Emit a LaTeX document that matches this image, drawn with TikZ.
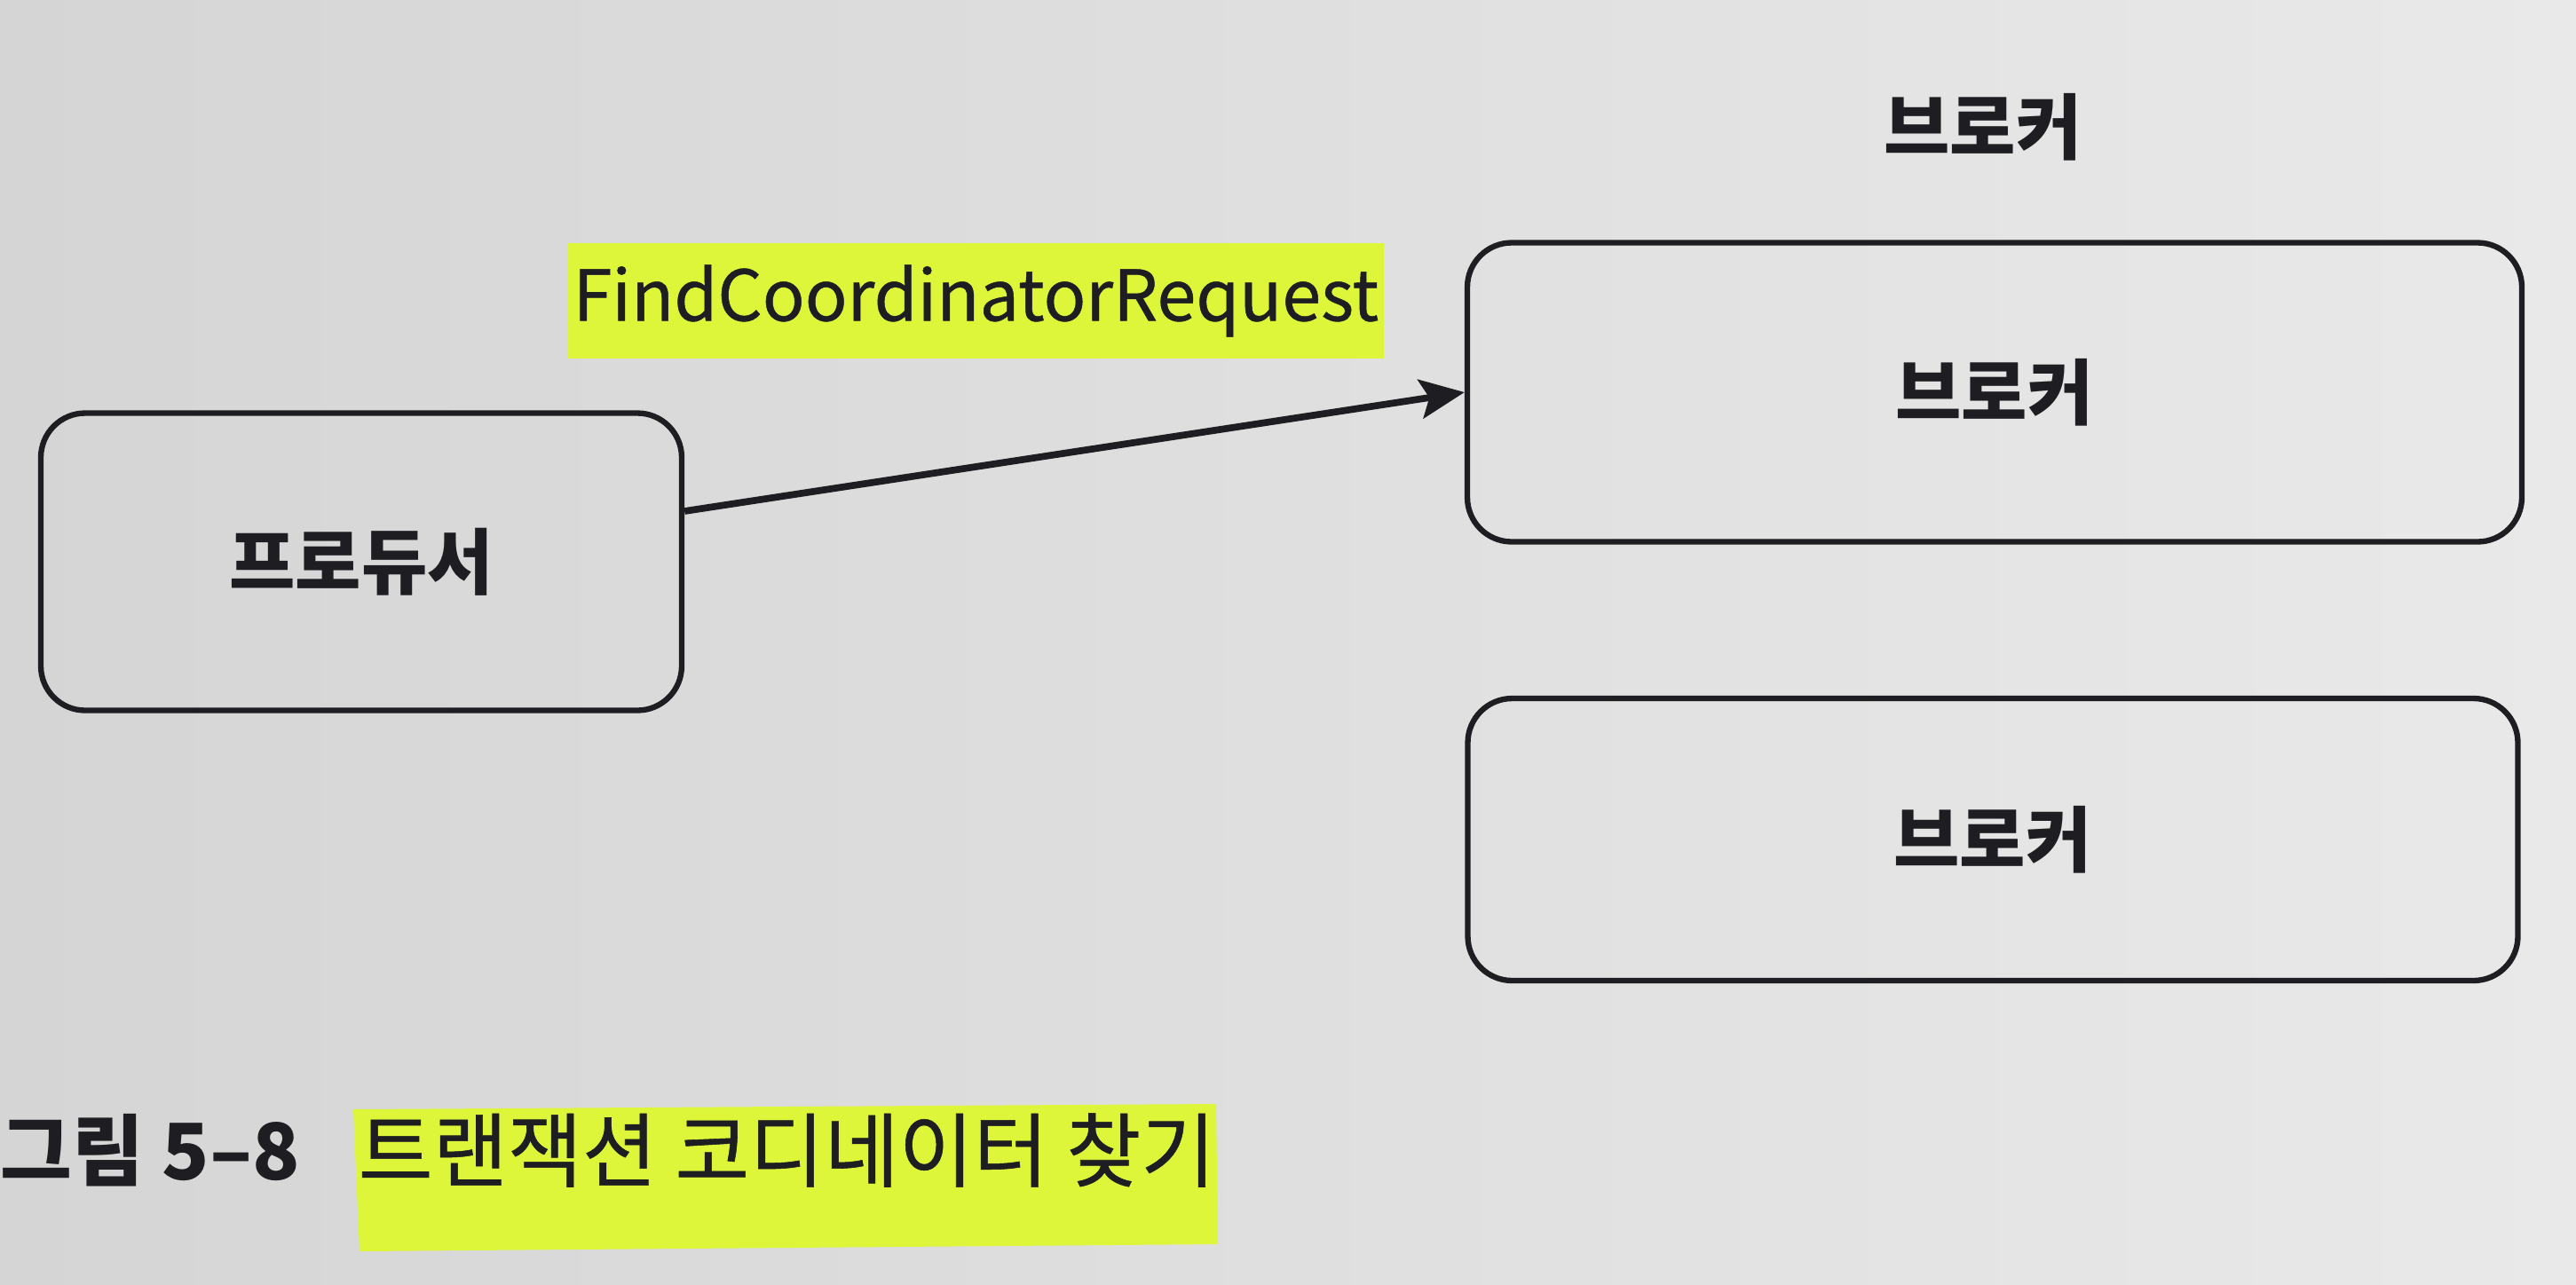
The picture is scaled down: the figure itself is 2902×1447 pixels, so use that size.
\documentclass[tikz,border=0pt]{standalone}
\usepackage{fontspec}
\setmainfont{Noto Sans CJK KR}
\usetikzlibrary{arrows.meta,calc}
\definecolor{paperL}{RGB}{212,213,212}
\definecolor{paperR}{RGB}{232,233,232}
\definecolor{hl}{RGB}{222,246,58}
\definecolor{ink}{RGB}{30,30,34}
\tikzset{
  box/.style={draw=ink, line width=1.8pt, rounded corners=5mm, font=\fontsize{23}{27}\selectfont\bfseries, text=ink},
  lbl/.style={font=\fontsize{23}{27}\selectfont\bfseries, text=ink},
  conn/.style={draw=ink, line width=2.2pt, -{Stealth[length=5mm,width=4.4mm,inset=1mm]}},
}
\begin{document}
\begin{tikzpicture}[x=0.1mm,y=-0.1mm]
\useasboundingbox (0,0) rectangle (2902,1447);
\shade[left color=paperL, right color=paperR] (0,0) rectangle (2902,1447);
% boxes
\node[box, minimum width=72.2mm, minimum height=33.5mm] (prod) at (407,633) {프로듀서};
\node[box, minimum width=118.8mm, minimum height=33.7mm] (b1) at (2247,442) {브로커};
\node[box, minimum width=118.3mm, minimum height=31.8mm] (b2) at (2245,946) {브로커};
\node[lbl] (top) at (2234,143) {브로커};
% arrow label
\node[fill=hl, inner xsep=0.6mm, inner ysep=0pt, minimum height=13mm, anchor=west,
      font=\fontsize{22.5}{26}\selectfont\addfontfeature{FakeBold=0.6}, text=ink] (req) at (639,339) {FindCoordinatorRequest};
% arrow
\draw[conn] ($(prod.east)+(0,-57)$) -- (b1.west);
% caption
\fill[hl] (398,1250) -- (1370,1244) -- (1372,1402) -- (405,1410) -- cycle;
\node[anchor=west, inner sep=0pt, font=\fontsize{25}{30}\selectfont\bfseries, text=ink] (capA) at (0,1296) {그림 5–8};
\node[anchor=west, inner sep=0pt, font=\fontsize{26}{30}\selectfont\addfontfeature{FakeBold=0.6}, text=ink] (capB) at (403,1296) {트랜잭션 코디네이터 찾기};
\end{tikzpicture}
\end{document}
